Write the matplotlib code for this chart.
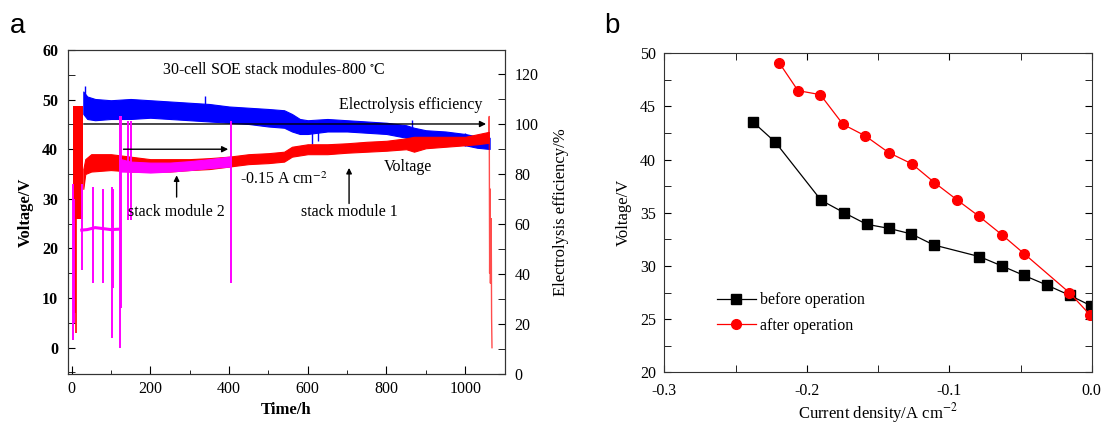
import numpy as np
import matplotlib
matplotlib.use("Agg")
import matplotlib.pyplot as plt
from matplotlib.ticker import MultipleLocator

plt.rcParams['font.family'] = ['Liberation Serif', 'DejaVu Serif']
plt.rcParams['mathtext.fontset'] = 'stix'

# ---- panel a: long-term test ----
# efficiency band (blue, right axis, %)
eff_t = [30, 40, 60, 100, 150, 200, 250, 300, 350, 400, 450, 500, 540, 560, 580,
         600, 650, 700, 750, 800, 850, 870, 900, 950, 1000, 1030, 1062]
eff_hi = [113, 111, 110, 109.5, 110, 109.5, 109, 108.5, 108, 107, 106.5, 106, 105.5, 104, 102,
          101.5, 102, 101.5, 101, 100.5, 99.5, 98.5, 97.5, 97, 96, 95, 94.5]
eff_lo = [104, 102, 101.5, 102, 102, 102.5, 102, 101.5, 101, 100.5, 100, 99, 98.5, 97, 96,
          96, 97, 97, 96.5, 96, 94.5, 94, 93, 92.5, 91.5, 90.5, 90]
eff_spk_t = [35, 340, 610, 625, 866, 1000]
eff_spk_lo = [104, 103, 92, 93, 94.4, 91]
eff_spk_hi = [115, 111, 98, 98, 101.6, 96.5]

# voltage band, stack module 1 (red, left axis, V)
volt_t = [30, 35, 50, 100, 150, 200, 250, 300, 350, 400, 450, 500, 540, 560, 600,
          650, 700, 750, 800, 850, 870, 900, 950, 1000, 1030, 1060]
volt_hi = [36, 38, 39, 39, 38.5, 38, 38, 38, 38.2, 38.5, 39, 39.2, 39.5, 40.5, 41,
           41, 41.2, 41.5, 41.7, 42.2, 42.5, 42.5, 42.5, 42.5, 43, 43.5]
volt_lo = [32, 35, 35.5, 35.8, 35.5, 35.5, 35.5, 35.8, 36, 36.5, 37, 37.2, 37.5, 38.5, 39,
           39, 39.3, 39.5, 39.7, 40, 39.5, 40.2, 40.5, 40.8, 41, 41.3]
start_t = [4, 30]
start_lo = [26, 26]
start_hi = [48.8, 48.8]
red_spk_t = [6, 9, 12]
red_spk_lo = [10, 7, 3]
red_spk_hi = [48, 48, 48]
tail_t = [1060, 1061, 1062, 1063, 1064, 1066, 1067, 1068]
tail_v = [42, 46.6, 15, 32, 13, 26, 6, 0]

# stack module 2 (magenta, left axis, V)
mag_flat_t = [26, 40, 60, 80, 100, 123]
mag_flat_v = [23.7, 23.8, 24.2, 24.0, 23.8, 23.9]
mag_t = [125, 150, 200, 250, 300, 350, 400, 405]
mag_hi = [38, 37.5, 37.3, 37.3, 37.6, 38, 38.5, 38.5]
mag_lo = [35.5, 35.5, 35.3, 35.5, 35.8, 36.2, 36.5, 36.5]
mag_spk_t = [4, 7, 26, 54, 79, 103, 106, 122, 126, 144, 151, 405]
mag_spk_lo = [1.5, 5, 15.7, 13, 13, 2, 12, 0, 8, 25.7, 25.7, 13]
mag_spk_hi = [33, 30, 33, 32.3, 32, 32.3, 32, 46.6, 46.6, 45.6, 45.6, 45.6]

# ---- panel b: V-I curves ----
j_before = [-0.238, -0.222, -0.190, -0.174, -0.158, -0.1425, -0.1266, -0.111,
            -0.0788, -0.063, -0.0477, -0.0316, -0.0154, -0.0007]
v_before = [43.57, 41.63, 36.18, 35.02, 33.92, 33.54, 33.01, 31.98,
            30.88, 30.0, 29.12, 28.21, 27.24, 26.27]
j_after = [-0.2193, -0.2062, -0.1905, -0.1746, -0.1589, -0.1425, -0.1261, -0.1104,
           -0.0948, -0.0791, -0.0629, -0.0475, -0.0157, -0.0011]
v_after = [49.09, 46.49, 46.11, 43.32, 42.23, 40.66, 39.59, 37.84,
           36.24, 34.67, 32.92, 31.16, 27.49, 25.39]

fig = plt.figure(figsize=(11.05, 4.28), dpi=100)

BLUE = '#0000ff'
RED = '#ff0000'
MAG = '#ff00ff'

ax = fig.add_axes([0.0615, 0.1262, 0.3955, 0.757])
ax2 = ax.twinx()
ax.set_zorder(ax2.get_zorder() + 1)
ax.patch.set_visible(False)

# blue efficiency on the right axis
ax2.fill_between(eff_t, eff_lo, eff_hi, color=BLUE, lw=0.8)
ax2.vlines(eff_spk_t, eff_spk_lo, eff_spk_hi, colors=BLUE, lw=1)
ax2.annotate('', xy=(1060, 100), xytext=(24, 100),
             arrowprops=dict(arrowstyle='-|>', color='k', lw=1, mutation_scale=9))

# red voltage, stack module 1
ax.fill_between(start_t, start_lo, start_hi, color=RED, lw=0)
ax.vlines(red_spk_t, red_spk_lo, red_spk_hi, colors=RED, lw=1.2)
ax.fill_between(volt_t, volt_lo, volt_hi, color=RED, lw=0.8)
ax.plot(tail_t, tail_v, color=RED, lw=1, alpha=0.7)

# magenta, stack module 2
ax.plot(mag_flat_t, mag_flat_v, color=MAG, lw=2.2)
ax.vlines(mag_spk_t, mag_spk_lo, mag_spk_hi, colors=MAG, lw=1.4)
ax.fill_between(mag_t, mag_lo, mag_hi, color=MAG, lw=0.8)

ax.annotate('', xy=(405, 40), xytext=(125, 40),
            arrowprops=dict(arrowstyle='-|>', color='k', lw=1, mutation_scale=9))
ax.annotate('', xy=(267, 35.3), xytext=(267, 29.8),
            arrowprops=dict(arrowstyle='-|>', color='k', lw=1, mutation_scale=8))
ax.annotate('', xy=(705, 36.8), xytext=(705, 28.5),
            arrowprops=dict(arrowstyle='-|>', color='k', lw=1, mutation_scale=8))

ax.text(515, 56, '30-cell SOE stack modules-800 $^{\\circ}$C', ha='center', va='center', fontsize=11.5)
ax.text(680, 49, 'Electrolysis efficiency', ha='left', va='center', fontsize=11.5)
ax.text(427, 33.8, '-0.15 A cm$^{-2}$', ha='left', va='center', fontsize=11.5)
ax.text(793, 36.4, 'Voltage', ha='left', va='center', fontsize=11.5)
ax.text(143, 27.4, 'stack module 2', ha='left', va='center', fontsize=11.5)
ax.text(583, 27.4, 'stack module 1', ha='left', va='center', fontsize=11.5)

ax.set_xlim(-9, 1101)
ax.set_ylim(-5.3, 60)
ax2.set_ylim(0, 129.6)
ax.xaxis.set_major_locator(MultipleLocator(200))
ax.xaxis.set_minor_locator(MultipleLocator(100))
ax.yaxis.set_major_locator(MultipleLocator(10))
ax.yaxis.set_minor_locator(MultipleLocator(5))
ax2.yaxis.set_major_locator(MultipleLocator(20))
ax2.yaxis.set_minor_locator(MultipleLocator(10))
ax.tick_params(axis='both', which='both', direction='in', labelsize=11.5)
ax.tick_params(axis='y', which='both', length=5, pad=7, right=False)
ax.tick_params(axis='x', which='major', length=6, pad=5)
ax.tick_params(axis='x', which='minor', length=3)
ax2.tick_params(axis='y', which='both', direction='in', length=5, pad=7, labelsize=11.5)
for lab in ax.get_yticklabels():
    lab.set_fontweight('bold')
ax.set_xlabel('Time/h', fontsize=12, fontweight='bold', labelpad=4)
ax.set_ylabel('Voltage/V', fontsize=12, fontweight='bold', labelpad=6)
ax2.set_ylabel('Electrolysis efficiency/%', fontsize=12, rotation=90, labelpad=10)
for a in (ax, ax2):
    for s in a.spines.values():
        s.set_color('#333333')

# ---- panel b ----
bx = fig.add_axes([0.6012, 0.1301, 0.3868, 0.7454])
bx.plot(j_before, v_before, color='k', lw=0.9, marker='s', ms=6.5, label='before operation')
bx.plot(j_after, v_after, color=RED, lw=0.9, marker='o', ms=7, label='after operation')
bx.set_xlim(-0.3, 0.0)
bx.set_ylim(20, 50)
bx.xaxis.set_major_locator(MultipleLocator(0.1))
bx.xaxis.set_minor_locator(MultipleLocator(0.05))
bx.yaxis.set_major_locator(MultipleLocator(5))
bx.yaxis.set_minor_locator(MultipleLocator(2.5))
bx.set_xticklabels([f'{v:.1f}' for v in bx.get_xticks()])
bx.tick_params(axis='both', which='both', direction='in', top=True, right=True, labelsize=11.5)
bx.tick_params(axis='both', which='major', length=5)
bx.tick_params(axis='both', which='minor', length=5)
bx.tick_params(axis='x', pad=8)
bx.tick_params(axis='y', pad=6)
bx.set_xlabel('Current density/A cm$^{-2}$', fontsize=12, labelpad=1)
bx.set_ylabel('Voltage/V', fontsize=12, labelpad=6)
bx.legend(loc='lower left', bbox_to_anchor=(0.09, 0.075), frameon=False, fontsize=11.5,
          handlelength=2.4, handletextpad=0.3, labelspacing=0.6)
for s in bx.spines.values():
    s.set_color('#333333')

fig.text(10 / 1105, 1 - 33 / 428, 'a', fontsize=20, family='Liberation Sans', ha='left', va='baseline')
fig.text(604 / 1105, 1 - 33 / 428, 'b', fontsize=20, family='Liberation Sans', ha='left', va='baseline')

fig.savefig('out.png', dpi=100)
